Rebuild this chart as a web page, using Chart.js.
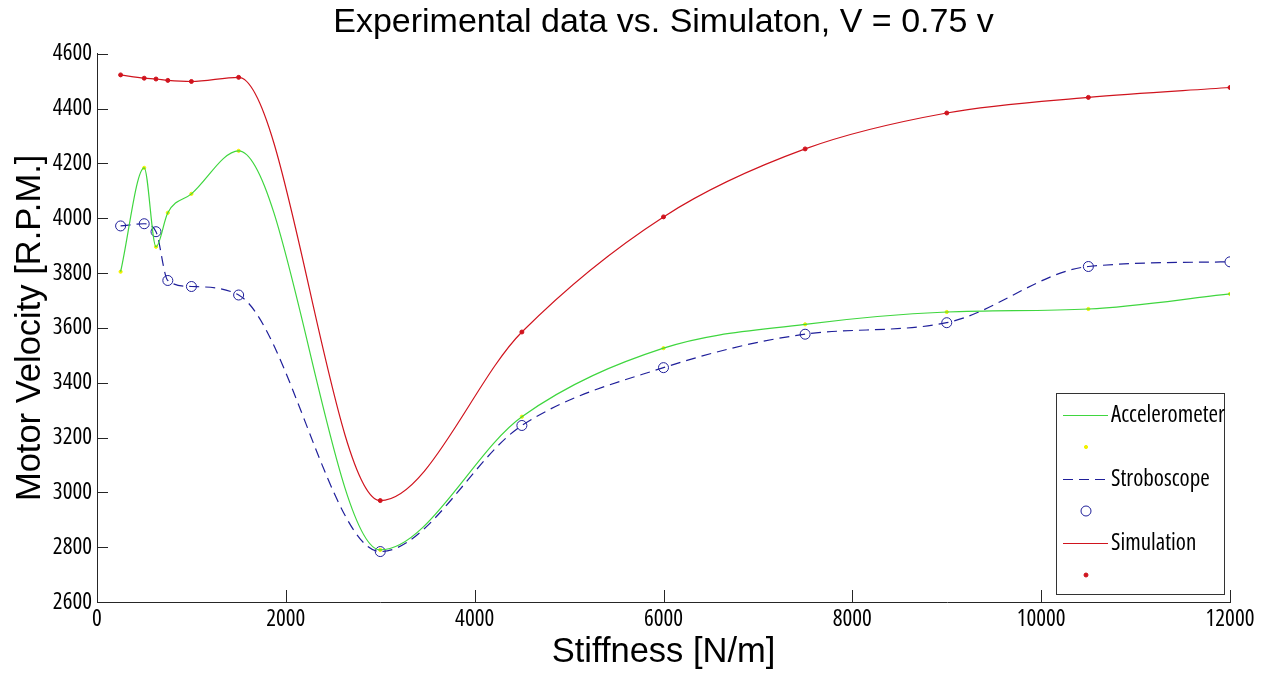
<!DOCTYPE html>
<html>
<head>
<meta charset="utf-8">
<script src="https://cdn.jsdelivr.net/npm/chart.js@4.4.1/dist/chart.umd.min.js"></script>
<style>
  html, body { margin: 0; padding: 0; background: #fff; }
  #wrap { width: 1265px; height: 673px; }
</style>
</head>
<body>
<div id="wrap"><canvas id="chart" width="1265" height="673"></canvas></div>
<script>
// stiffness values on the x axis [N/m]
const stiffness = [250, 500, 625, 750, 1000, 1500, 3000, 4500, 6000, 7500, 9000, 10500, 12000];

// motor velocity readings [R.P.M.]
const accelerometer = [3805, 4184, 3896, 4020, 4089, 4246, 2790, 3276, 3526, 3613, 3658, 3669, 3724];
const stroboscope   = [3972, 3980, 3951, 3773, 3751, 3720, 2784, 3244, 3455, 3577, 3619, 3824, 3841];
const simulation    = [4523, 4511, 4508, 4503, 4499, 4514, 2970, 3585, 4005, 4253, 4384, 4441, 4477];

const xTicks = [0, 2000, 4000, 6000, 8000, 10000, 12000];
const yTicks = [2600, 2800, 3000, 3200, 3400, 3600, 3800, 4000, 4200, 4400, 4600];

// narrow face: Open Sans has a width axis, "condensed" picks it
const NARROW = "'Open Sans', 'Roboto Condensed', sans-serif";
const ARIAL = "'Liberation Sans', Arial, sans-serif";

const GREEN = '#3fd63f';
const YELLOW = '#f2f200';
const BLUE = '#1f1f9a';
const RED = '#d0141e';

const pts = ys => stiffness.map((x, i) => ({ x: x, y: ys[i] }));

// inward tick marks like the original figure
const innerTicks = {
  id: 'innerTicks',
  afterDraw(chart) {
    const ctx = chart.ctx;
    const xs = chart.scales.x, ys = chart.scales.y;
    const a = chart.chartArea;
    ctx.save();
    ctx.strokeStyle = '#262626';
    ctx.lineWidth = 1;
    ctx.beginPath();
    xTicks.forEach(v => {
      const px = Math.round(xs.getPixelForValue(v)) + 0.5;
      ctx.moveTo(px, a.bottom);
      ctx.lineTo(px, a.bottom - 12);
    });
    yTicks.forEach(v => {
      const py = Math.round(ys.getPixelForValue(v)) + 0.5;
      ctx.moveTo(a.left, py);
      ctx.lineTo(a.left + 11, py);
    });
    ctx.stroke();
    ctx.restore();
  }
};

// MATLAB style legend inside the axes, lines and markers on separate rows
const boxLegend = {
  id: 'boxLegend',
  afterDraw(chart) {
    const ctx = chart.ctx;
    const a = chart.chartArea;
    const w = 168, h = 201;
    const left = a.right - 6 - w, top = a.bottom - 8 - h;
    ctx.save();
    ctx.fillStyle = '#fff';
    ctx.fillRect(left, top, w, h);
    ctx.strokeStyle = '#333';
    ctx.lineWidth = 1;
    ctx.strokeRect(Math.round(left) + 0.5, Math.round(top) + 0.5, w, h);
    ctx.font = 'condensed 23px ' + NARROW;
    ctx.textBaseline = 'middle';
    ctx.textAlign = 'left';
    chart.data.datasets.forEach((ds, i) => {
      const cy = top + 22 + i * 32;
      if (ds.showLine !== false) {
        ctx.strokeStyle = ds.borderColor;
        ctx.lineWidth = 1;
        ctx.setLineDash(ds.borderDash || []);
        ctx.beginPath();
        ctx.moveTo(left + 7, cy + 0.5);
        ctx.lineTo(left + 52, cy + 0.5);
        ctx.stroke();
        ctx.setLineDash([]);
        ctx.fillStyle = '#000';
        ctx.fillText(ds.label, left + 55, cy);
      } else {
        ctx.beginPath();
        ctx.arc(left + 30, cy, ds.pointRadius, 0, Math.PI * 2);
        if (ds.pointBackgroundColor !== 'transparent') {
          ctx.fillStyle = ds.pointBackgroundColor;
          ctx.fill();
        }
        ctx.strokeStyle = ds.pointBorderColor;
        ctx.lineWidth = 1;
        ctx.stroke();
      }
    });
    ctx.restore();
  }
};

const lineSet = (label, ys, color, dash) => ({
  label: label,
  data: pts(ys),
  borderColor: color,
  borderWidth: 1.2,
  borderDash: dash,
  pointRadius: 0,
  fill: false,
  cubicInterpolationMode: 'monotone'
});

const markSet = (ys, fillC, strokeC, r) => ({
  label: '',
  data: pts(ys),
  showLine: false,
  pointRadius: r,
  pointBackgroundColor: fillC,
  pointBorderColor: strokeC,
  pointBorderWidth: 1
});

const tickFont = { family: NARROW, size: 23, weight: 'condensed' };

new Chart(document.getElementById('chart'), {
  type: 'line',
  data: {
    datasets: [
      lineSet('Accelerometer', accelerometer, GREEN, []),
      markSet(accelerometer, YELLOW, YELLOW, 1.6),
      lineSet('Stroboscope', stroboscope, BLUE, [10, 6]),
      markSet(stroboscope, 'transparent', BLUE, 5),
      lineSet('Simulation', simulation, RED, []),
      markSet(simulation, RED, RED, 2)
    ]
  },
  options: {
    responsive: false,
    animation: false,
    devicePixelRatio: 1,
    layout: { padding: { left: 0, right: 35, top: 0, bottom: 0 } },
    plugins: {
      legend: { display: false },
      tooltip: { enabled: false },
      title: {
        display: true,
        fullSize: false,
        text: 'Experimental data vs. Simulaton, V = 0.75 v',
        color: '#000',
        font: { family: ARIAL, size: 34, weight: 'normal' },
        padding: { top: 2, bottom: 11 }
      }
    },
    scales: {
      x: {
        type: 'linear',
        min: 0,
        max: 12000,
        afterFit: s => { s.height = 71; },
        afterBuildTicks: s => { s.ticks = xTicks.map(v => ({ value: v })); },
        grid: { display: false, drawTicks: false },
        border: { display: true, color: '#262626', width: 1 },
        ticks: {
          color: '#000',
          padding: 4,
          maxRotation: 0,
          font: tickFont,
          callback: v => String(v)
        },
        title: {
          display: true,
          text: 'Stiffness [N/m]',
          color: '#000',
          font: { family: ARIAL, size: 34.5 },
          padding: { top: 0, bottom: 0 }
        }
      },
      y: {
        type: 'linear',
        min: 2600,
        max: 4600,
        afterFit: s => { s.width = 97; },
        afterBuildTicks: s => { s.ticks = yTicks.map(v => ({ value: v })); },
        grid: { display: false, drawTicks: false },
        border: { display: true, color: '#262626', width: 1 },
        ticks: {
          color: '#000',
          padding: 5,
          font: tickFont,
          callback: v => String(v)
        },
        title: {
          display: true,
          text: 'Motor Velocity [R.P.M.]',
          color: '#000',
          font: { family: ARIAL, size: 34.5 },
          padding: { top: 10, bottom: 0 }
        }
      }
    }
  },
  plugins: [innerTicks, boxLegend]
});
</script>
</body>
</html>
